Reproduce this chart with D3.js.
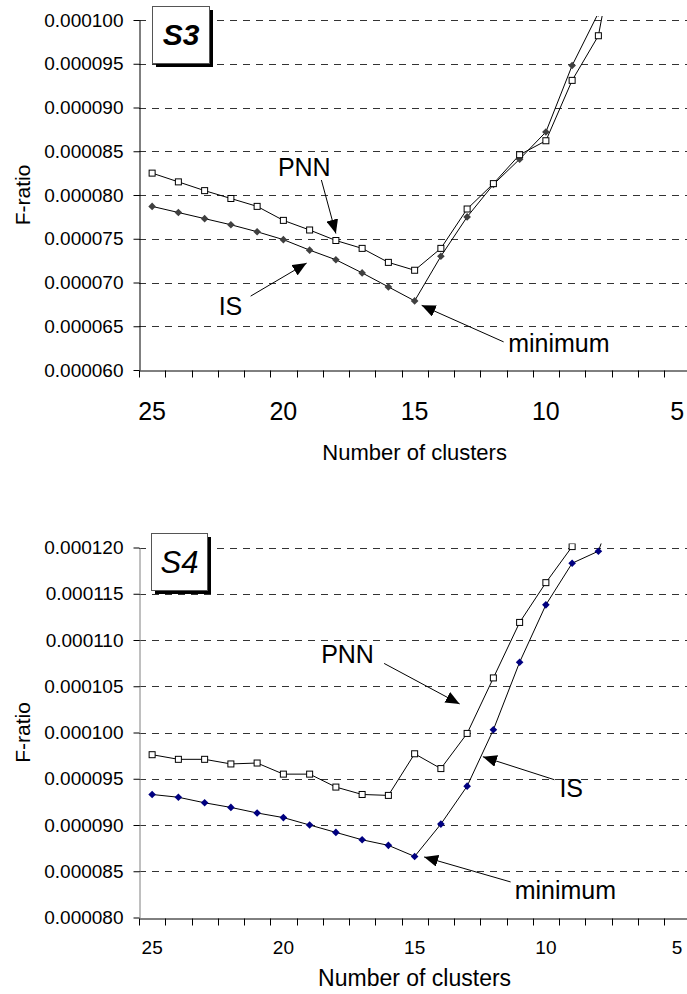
<!DOCTYPE html>
<html>
<head>
<meta charset="utf-8">
<script src="https://cdn.jsdelivr.net/npm/d3@7"></script>
<style>
  body { margin: 0; background: #fff; }
  svg { display: block; font-family: "Liberation Sans", Arial, sans-serif; }
</style>
</head>
<body>
<svg id="figure" width="687" height="994"></svg>
<script>
// categories, read right to left on the x axis
const clusters = [25, 24, 23, 22, 21, 20, 19, 18, 17, 16, 15, 14, 13, 12, 11, 10, 9, 8, 7, 6, 5];
const xLabelTicks = [25, 20, 15, 10, 5];

// S3 values, starting at 25 clusters (last ones leave the plot at the top)
const s3Pnn = [0.0000825, 0.0000815, 0.0000805, 0.0000796, 0.0000787, 0.0000771, 0.0000760, 0.0000748,
               0.0000739, 0.0000723, 0.0000714, 0.0000739, 0.0000784, 0.0000813, 0.0000846, 0.0000862,
               0.0000931, 0.0000982, 0.0001140];
const s3Is = [0.0000787, 0.0000780, 0.0000773, 0.0000766, 0.0000758, 0.0000749, 0.0000737, 0.0000726,
              0.0000711, 0.0000695, 0.0000679, 0.0000730, 0.0000775, 0.0000812, 0.0000841, 0.0000872,
              0.0000948, 0.0001008];
const s3YTicks = [0.000060, 0.000065, 0.000070, 0.000075, 0.000080, 0.000085, 0.000090, 0.000095, 0.000100];

// S4 values, starting at 25 clusters
const s4Pnn = [0.0000976, 0.0000971, 0.0000971, 0.0000966, 0.0000967, 0.0000955, 0.0000955, 0.0000941,
               0.0000933, 0.0000932, 0.0000977, 0.0000961, 0.0000999, 0.0001059, 0.0001119, 0.0001162,
               0.0001201];
const s4Is = [0.0000933, 0.0000930, 0.0000924, 0.0000919, 0.0000913, 0.0000908, 0.0000900, 0.0000892,
              0.0000884, 0.0000878, 0.0000866, 0.0000901, 0.0000942, 0.0001003, 0.0001076, 0.0001138,
              0.0001183, 0.0001196, 0.0001275];
const s4YTicks = [0.000080, 0.000085, 0.000090, 0.000095, 0.000100, 0.000105, 0.000110, 0.000115, 0.000120];

const toPoints = (values) => values.map((v, i) => ({ k: clusters[i], v: v }));

const svg = d3.select('#figure');

const defs = svg.append('defs');
defs.append('marker')
  .attr('id', 'head')
  .attr('markerUnits', 'userSpaceOnUse')
  .attr('viewBox', '0 0 14 12')
  .attr('refX', 14).attr('refY', 6)
  .attr('markerWidth', 14).attr('markerHeight', 12)
  .attr('orient', 'auto')
  .append('path')
  .attr('d', 'M0,0L14,6L0,12Z')
  .attr('fill', '#000');

const diamond = 'M0,-3.8L3.8,0L0,3.8L-3.8,0Z';

const clusterChart = (opts) => {
  const left = 139, right = 690.25;
  const x = d3.scaleBand().domain(clusters).range([left, right]);
  const y = d3.scaleLinear().domain(opts.domain).range([opts.bottom, opts.top]);
  const cx = (k) => x(k) + x.bandwidth() / 2;

  const g = svg.append('g');

  // dashed gridlines
  g.append('g')
    .selectAll('line')
    .data(opts.yTicks.filter((t) => t > opts.domain[0]))
    .join('line')
    .attr('x1', left).attr('x2', 687)
    .attr('y1', (d) => Math.round(y(d)) + 0.5)
    .attr('y2', (d) => Math.round(y(d)) + 0.5)
    .attr('stroke', '#333')
    .attr('stroke-dasharray', '7,6');

  // y axis
  const yAxis = g.append('g')
    .attr('transform', `translate(${left + 0.5},0)`)
    .call(d3.axisLeft(y)
          .tickValues(opts.yTicks)
          .tickFormat(d3.format('.6f'))
          .tickSize(6)
          .tickSizeOuter(0)
          .tickPadding(10));
  yAxis.attr('font-family', null).attr('font-size', null);
  yAxis.select('.domain').attr('stroke', opts.yAxisColor);
  yAxis.selectAll('.tick line').attr('stroke', '#000');
  yAxis.selectAll('text').attr('font-size', 19).attr('fill', '#000');

  // x axis: labels at 25, 20, ..., tick marks between categories
  const xAxis = g.append('g')
    .attr('transform', `translate(0,${Math.round(opts.bottom) + 0.5})`)
    .call(d3.axisBottom(x)
          .tickValues(xLabelTicks)
          .tickSize(0)
          .tickSizeOuter(0));
  xAxis.attr('font-family', null).attr('font-size', null);
  xAxis.select('.domain').attr('stroke', '#000');
  xAxis.selectAll('text')
    .attr('font-size', opts.xLabelSize)
    .attr('fill', '#000')
    .attr('y', opts.xLabelY - opts.bottom)
    .attr('dy', '0.36em');
  xAxis.append('g')
    .selectAll('line')
    .data(clusters)
    .join('line')
    .attr('x1', (k) => Math.round(x(k)) + 0.5)
    .attr('x2', (k) => Math.round(x(k)) + 0.5)
    .attr('y1', 0).attr('y2', 7)
    .attr('stroke', '#000');

  // axis titles
  g.append('text')
    .attr('x', (left + right) / 2).attr('y', opts.titleY)
    .attr('dy', '0.36em')
    .attr('text-anchor', 'middle')
    .attr('font-size', opts.titleSize)
    .text('Number of clusters');
  g.append('text')
    .attr('transform', `translate(22,${(opts.top + opts.bottom) / 2}) rotate(-90)`)
    .attr('dy', '0.36em')
    .attr('text-anchor', 'middle')
    .attr('font-size', 21)
    .text('F-ratio');

  // series, clipped to the plot area
  const clipId = `clip-${opts.name}`;
  defs.append('clipPath').attr('id', clipId)
    .append('rect')
    .attr('x', left).attr('y', opts.top - 4)
    .attr('width', 687 - left).attr('height', opts.bottom - opts.top + 4);

  const plot = g.append('g').attr('clip-path', `url(#${clipId})`);
  const line = d3.line().x((d) => cx(d.k)).y((d) => y(d.v));

  const pnnPts = toPoints(opts.pnn);
  const isPts = toPoints(opts.is);

  plot.append('path').datum(pnnPts)
    .attr('d', line).attr('fill', 'none').attr('stroke', '#000').attr('stroke-width', 1);
  plot.append('path').datum(isPts)
    .attr('d', line).attr('fill', 'none').attr('stroke', '#000').attr('stroke-width', 1);

  plot.append('g').selectAll('path')
    .data(isPts)
    .join('path')
    .attr('d', diamond)
    .attr('transform', (d) => `translate(${cx(d.k)},${y(d.v)})`)
    .attr('fill', opts.isColor);

  plot.append('g').selectAll('rect')
    .data(pnnPts)
    .join('rect')
    .attr('x', (d) => cx(d.k) - 3).attr('y', (d) => y(d.v) - 3)
    .attr('width', 6).attr('height', 6)
    .attr('fill', '#fff').attr('stroke', '#000').attr('stroke-width', 1);

  // annotations, anchored on a data point
  opts.notes.forEach((n) => {
    const series = n.series === 'pnn' ? opts.pnn : opts.is;
    const px = cx(n.k);
    const py = y(series[clusters.indexOf(n.k)]);
    g.append('line')
      .attr('x1', px + n.tail[0]).attr('y1', py + n.tail[1])
      .attr('x2', px + n.tip[0]).attr('y2', py + n.tip[1])
      .attr('stroke', '#000').attr('stroke-width', 1)
      .attr('marker-end', 'url(#head)');
    g.append('text')
      .attr('x', px + n.text[0]).attr('y', py + n.text[1])
      .attr('font-size', 25)
      .text(n.label);
  });

  // dataset tag box with shadow
  const b = opts.box;
  g.append('rect')
    .attr('x', b.x + 4).attr('y', b.y + 4).attr('width', b.w).attr('height', b.h)
    .attr('fill', '#000');
  g.append('rect')
    .attr('x', b.x + 0.5).attr('y', b.y + 0.5).attr('width', b.w).attr('height', b.h)
    .attr('fill', '#fff').attr('stroke', '#555');
  g.append('text')
    .attr('x', b.x + b.w / 2 + 0.5).attr('y', b.baseline)
    .attr('text-anchor', 'middle')
    .attr('font-size', b.size)
    .attr('font-style', 'italic')
    .attr('font-weight', b.bold ? 'bold' : 'normal')
    .text(opts.name);
};

clusterChart({
  name: 'S3',
  domain: [0.000060, 0.000100],
  top: 20, bottom: 370,
  yTicks: s3YTicks,
  pnn: s3Pnn, is: s3Is,
  yAxisColor: '#000', isColor: '#404040',
  xLabelSize: 25, xLabelY: 410,
  titleSize: 22, titleY: 452,
  box: { x: 152, y: 6, w: 57, h: 57, baseline: 45, size: 30, bold: true },
  notes: [
    { label: 'PNN', series: 'pnn', k: 18, tip: [0, -7], tail: [-14.5, -60.5], text: [-58, -64.5] },
    { label: 'IS', series: 'is', k: 19, tip: [-3, 13], tail: [-59, 46], text: [-91, 65] },
    { label: 'minimum', series: 'is', k: 15, tip: [7, 4.5], tail: [89, 41], text: [93.5, 51.5] }
  ]
});

clusterChart({
  name: 'S4',
  domain: [0.000080, 0.000120],
  top: 547.5, bottom: 917.5,
  yTicks: s4YTicks,
  pnn: s4Pnn, is: s4Is,
  yAxisColor: '#808080', isColor: '#000080',
  xLabelSize: 19, xLabelY: 946,
  titleSize: 23, titleY: 978,
  box: { x: 151, y: 533, w: 56, h: 57, baseline: 573, size: 31, bold: false },
  notes: [
    { label: 'PNN', series: 'pnn', k: 13, tip: [-7.5, -29.5], tail: [-83, -70], text: [-146, -70.5] },
    { label: 'IS', series: 'is', k: 12, tip: [-10.5, 27], tail: [61, 50], text: [66, 67] },
    { label: 'minimum', series: 'is', k: 15, tip: [9.5, 0.5], tail: [96, 25.5], text: [100, 43] }
  ]
});
</script>
</body>
</html>
